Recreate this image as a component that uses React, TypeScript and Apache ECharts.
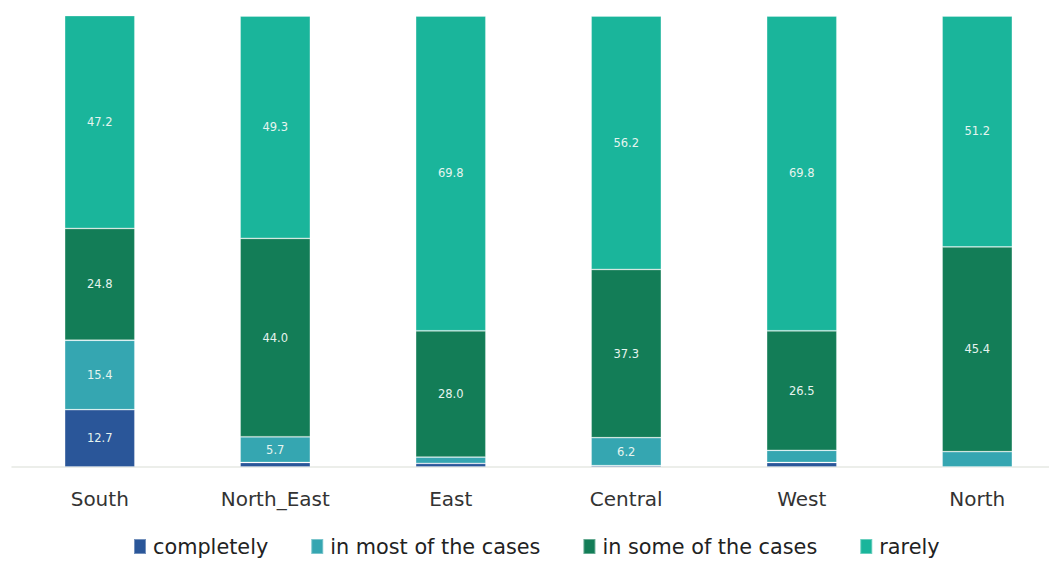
import React, { useEffect, useRef } from "react";
import * as echarts from "echarts";

const categories = ["South", "North_East", "East", "Central", "West", "North"];
const seriesNames = ["completely", "in most of the cases", "in some of the cases", "rarely"];
const completely = [12.7, 1.0, 0.8, 0.3, 1.0, 0];
const inMost = [15.4, 5.7, 1.4, 6.2, 2.7, 3.4];
const inSome = [24.8, 44.0, 28.0, 37.3, 26.5, 45.4];
const rarely = [47.2, 49.3, 69.8, 56.2, 69.8, 51.2];
const colors = ["#2a5699", "#35a6b1", "#137d57", "#1ab59b"];

export default function App() {
  const ref = useRef<HTMLDivElement>(null);
  useEffect(() => {
    const chart = echarts.init(ref.current!, undefined, { renderer: "svg" });
    const data = [completely, inMost, inSome, rarely];
    chart.setOption({
      animation: false,
      color: colors,
      grid: { left: 12, right: 5, top: 16, bottom: 96, containLabel: false },
      legend: {
        bottom: 1,
        left: 128,
        itemWidth: 12,
        itemHeight: 15,
        itemGap: 42,
        icon: "rect",
        textStyle: { fontFamily: "DejaVu Sans", fontSize: 20.8, color: "#222", padding: [0, 0, 0, 2] },
        data: seriesNames,
      },
      xAxis: {
        type: "category",
        data: categories,
        axisLine: { lineStyle: { color: "#e6e9e3", width: 1.5 } },
        axisTick: { show: false },
        axisLabel: { fontFamily: "DejaVu Sans", fontSize: 20, color: "#333", margin: 22 },
      },
      yAxis: { type: "value", min: 0, max: 100, show: false, splitLine: { show: false } },
      series: seriesNames.map((name, i) => ({
        name,
        type: "bar",
        stack: "total",
        barWidth: "40%",
        data: data[i],
        itemStyle: { color: colors[i], borderColor: "rgba(255,255,255,0.35)", borderWidth: 0.8 },
        label: {
          show: true,
          position: "inside",
          fontFamily: "DejaVu Sans",
          fontSize: 11.5,
          color: "#e6f4ef",
          formatter: (p: any) => (p.value >= 5 ? Number(p.value).toFixed(1) : ""),
        },
      })),
    });
    return () => chart.dispose();
  }, []);
  return (
    <div style={{ width: 1049, height: 563, position: "absolute", left: 0, top: 0, overflow: "hidden" }}>
      <div ref={ref} style={{ width: 1070, height: 563 }} />
    </div>
  );
}
